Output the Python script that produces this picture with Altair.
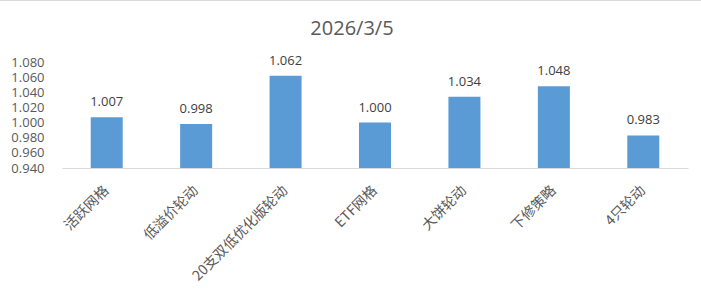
import altair as alt
import pandas as pd

categories = ["活跃网格", "低溢价轮动", "20支双低优化版轮动", "ETF网格", "大饼轮动", "下修策略", "4只轮动"]
values = [1.007, 0.998, 1.062, 1.000, 1.034, 1.048, 0.983]
y_ticks = [0.94, 0.96, 0.98, 1.00, 1.02, 1.04, 1.06, 1.08]
title_text = "2026/3/5"

df = pd.DataFrame({"cat": categories, "val": values,
                   "lbl": [f"{v:.3f}" for v in values]})

LEFT, TOP, W, H = 62, 62, 626, 106
gray = "#595959"

x_axis = alt.Axis(labelAngle=-45, labelAlign="right", labelBaseline="middle",
                  labelFont="Noto Sans CJK SC", labelFontSize=14, labelColor=gray,
                  labelPadding=20, ticks=False, domainColor="#d9d9d9", domainWidth=1,
                  grid=False, labelLimit=300, labelOverlap=False)
x_scale = alt.Scale(paddingInner=0.642, paddingOuter=0.321)
y_axis = alt.Axis(values=y_ticks, format=".3f", labelFont="Open Sans", labelFontSize=13,
                  labelColor=gray, labelPadding=18, ticks=False, domain=False, grid=False,
                  labelOverlap=False, labelBound=False)
y_scale = alt.Scale(domain=[0.94, 1.08], zero=False, nice=False)

x_enc = alt.X("cat:N", sort=categories, title=None, scale=x_scale, axis=x_axis)
y_enc = alt.Y("val:Q", scale=y_scale, title=None, axis=y_axis)

base = alt.Chart(df)
bars = base.mark_bar(color="#5b9bd5").encode(x=x_enc, y=y_enc, y2=alt.datum(0.94))
labels = base.mark_text(font="Open Sans", fontSize=13, color="#404040", baseline="middle", dy=-15).encode(
    x=x_enc, y=y_enc, text="lbl:N")
one = pd.DataFrame({"t": [title_text]})
border = alt.Chart(one).mark_rule(color="#d9d9d9", strokeWidth=1).encode(
    x=alt.value(-LEFT), x2=alt.value(701 - LEFT), y=alt.value(-TOP + 0.5))
title = alt.Chart(one).mark_text(font="Open Sans", fontSize=20, color=gray, baseline="middle",
                                 align="center").encode(
    x=alt.value(352 - LEFT), y=alt.value(29 - TOP), text="t:N")

chart = alt.layer(bars, labels, border, title).properties(
    width=W, height=H,
    background="white",
    autosize=alt.AutoSizeParams(type="none"),
    padding={"left": LEFT, "top": TOP, "right": 701 - LEFT - W, "bottom": 295 - TOP - H},
).configure_view(strokeWidth=0, stroke=None)

chart.save("out.html", embed_options={"renderer": "svg", "actions": False})
